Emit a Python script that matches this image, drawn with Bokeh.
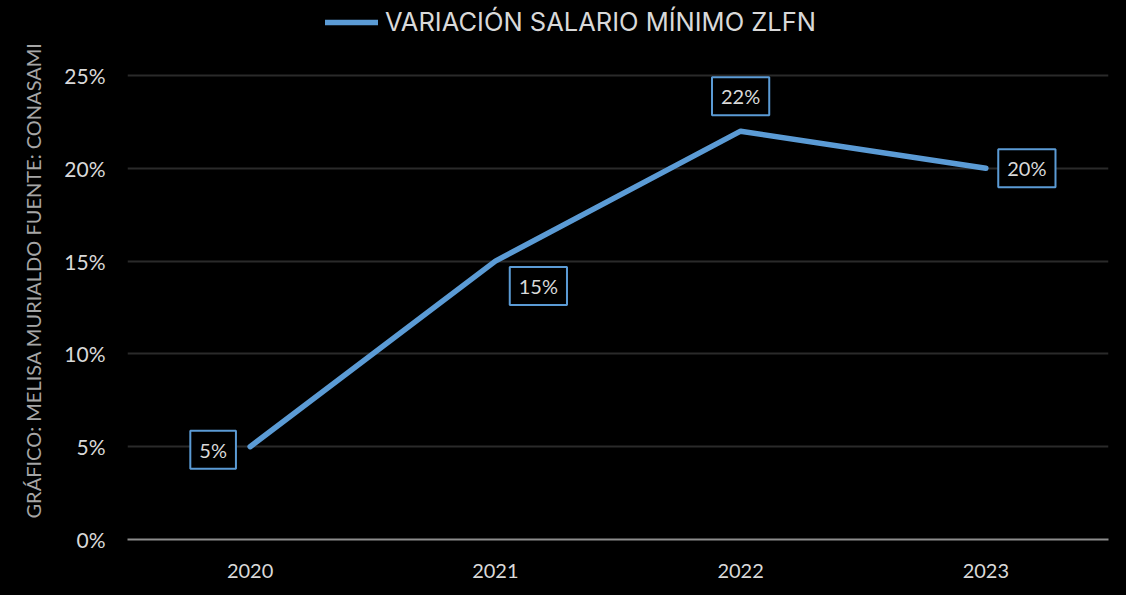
from bokeh.plotting import figure
from bokeh.models import (Range1d, FixedTicker, NumeralTickFormatter, Label,
                          Legend, LegendItem, ColumnDataSource, Title)
from bokeh.embed import file_html
from bokeh.resources import INLINE

years = ["2020", "2021", "2022", "2023"]
variation = [0.05, 0.15, 0.22, 0.20]
value_labels = ["5%", "15%", "22%", "20%"]
y_ticks = [0, 0.05, 0.10, 0.15, 0.20, 0.25]
series_name = "VARIACIÓN SALARIO MÍNIMO ZLFN"
side_note = "GRÁFICO: MELISA MURIALDO FUENTE: CONASAMI"

BLUE = "#5b9bd5"
TXT = "#d9d9d9"

W, H = 1126, 595
LEFT, RIGHT, BOTTOM = 127, 18, 56
TOP_GRID = 75          # pixel row of the top gridline
frame_h = H - BOTTOM
y_end = max(y_ticks) * frame_h / (frame_h - TOP_GRID)   # room for the legend

xs = list(range(len(years)))
src = ColumnDataSource(dict(x=xs, y=variation))

p = figure(width=W, height=H, output_backend="svg", toolbar_location=None,
           title=None,
           x_range=Range1d(-0.5, len(years) - 0.5), y_range=Range1d(0, y_end),
           background_fill_color="black", border_fill_color="black",
           min_border_left=LEFT, min_border_right=RIGHT, min_border_top=0,
           min_border_bottom=BOTTOM)
p.outline_line_color = None

line = p.line("x", "y", source=src, line_color=BLUE, line_width=5.5,
              line_cap="round", line_join="round")

# axes
p.xaxis.ticker = FixedTicker(ticks=xs)
p.xaxis.major_label_overrides = {i: y for i, y in enumerate(years)}
p.xaxis.axis_line_color = "#8c8c8c"
p.xaxis.axis_line_width = 2
p.xaxis.major_tick_line_color = None
p.xaxis.minor_tick_line_color = None
p.xaxis.major_label_standoff = 18
p.xaxis.major_label_text_font = "Lato"
p.xaxis.major_label_text_font_size = "20px"
p.xaxis.major_label_text_color = TXT

p.yaxis.ticker = FixedTicker(ticks=y_ticks)
p.yaxis.formatter = NumeralTickFormatter(format="0%")
p.yaxis.axis_line_color = None
p.yaxis.major_tick_line_color = None
p.yaxis.minor_tick_line_color = None
p.yaxis.major_label_standoff = 16
p.yaxis.major_label_text_font = "Lato"
p.yaxis.major_label_text_font_size = "21px"
p.yaxis.major_label_text_color = TXT

p.xgrid.grid_line_color = None
p.ygrid.grid_line_color = "#2a2a2a"
p.ygrid.grid_line_width = 2

# data labels
offsets = [(-37, -3), (43, -25), (0, 35), (41, 0)]
for xi, yi, t, (dx, dy) in zip(xs, variation, value_labels, offsets):
    p.add_layout(Label(x=xi, y=yi, text=t, x_offset=dx, y_offset=dy,
                       text_align="center", text_baseline="middle",
                       text_font="Lato", text_font_size="20px", text_color=TXT,
                       border_line_color=BLUE, border_line_width=2,
                       background_fill_color="black", padding=(9, 7)))

# side note
p.add_layout(Title(text=side_note, align="left", offset=21, standoff=34,
                   text_font="Lato", text_font_size="20px",
                   text_font_style="normal", text_color="#a6a6a6"), "left")

# legend (inside the frame, above the top gridline)
legend = Legend(items=[LegendItem(label=series_name, renderers=[line])],
                location=(198, 502), padding=0, margin=0, spacing=0,
                glyph_width=53, glyph_height=26, label_height=26,
                label_standoff=7, background_fill_alpha=0, border_line_color=None,
                label_text_font="Inter", label_text_font_size="25.5px",
                label_text_color=TXT)
p.add_layout(legend, "center")

html = file_html(p, INLINE)
html = html.replace("<body>", '<body style="background:#000000">')
open("out.html", "w").write(html)
